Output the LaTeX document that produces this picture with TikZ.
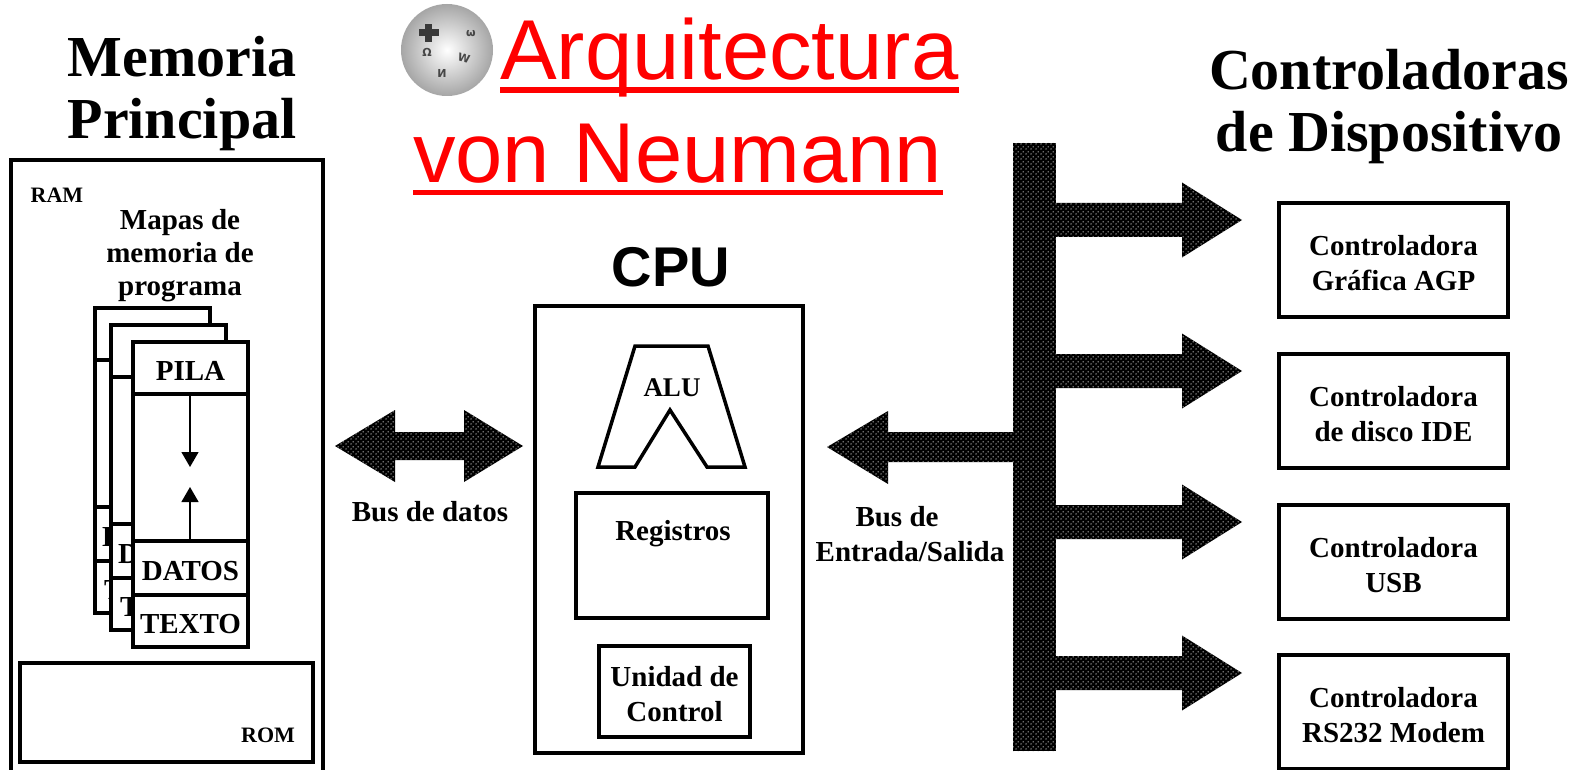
\documentclass[tikz,border=0pt]{standalone}
\usepackage{fontspec}
\setmainfont{Liberation Serif}
\newfontfamily\arialf{Liberation Sans}
\newfontfamily\dejavu{DejaVu Sans}
\usetikzlibrary{arrows.meta,patterns}
\pgfdeclarepatternformonly{busdots}{\pgfqpoint{0pt}{0pt}}{\pgfqpoint{5pt}{5pt}}{\pgfqpoint{5pt}{5pt}}{%
  \pgfpathcircle{\pgfqpoint{1.25pt}{1.25pt}}{0.8pt}%
  \pgfpathcircle{\pgfqpoint{3.75pt}{3.75pt}}{0.8pt}%
  \pgfusepath{fill}}
\begin{document}
\begin{tikzpicture}[x=1pt,y=-1pt,
  box/.style={draw, line width=3.5pt},
  lbl/.style={font=\bfseries\fontsize{29}{35}\selectfont, align=center, inner sep=0pt, yshift=-3pt},
  small/.style={font=\bfseries\fontsize{22}{26}\selectfont, inner sep=0pt, yshift=-2pt},
  head/.style={font=\bfseries\fontsize{58}{62}\selectfont, inner sep=0pt, anchor=base},
  titl/.style={font=\arialf\fontsize{85}{85}\selectfont, text=red, inner sep=0pt, anchor=base west},
  bus/.style={fill=black, postaction={pattern=busdots, pattern color=gray!30}},
  ptr/.style={line width=1.3pt, -{Triangle[width=17pt,length=15pt]}},
  glyph/.style={text=gray!55!black, font=\dejavu\bfseries\fontsize{11}{11}\selectfont, inner sep=0pt}
]
\useasboundingbox (0,0) rectangle (1582,770);
\fill[white] (0,0) rectangle (1582,770);

% ---- Wikipedia globe ----
\shade[inner color=white, outer color=gray!70] (447,50) circle (46pt);
\fill[gray!45!black] (419,29) rectangle (439,36);
\fill[gray!45!black] (425,24) rectangle (432,42);
\node[glyph] (g1) at (427,52) {Ω};
\node[glyph, rotate=-15] (g2) at (464,58) {W};
\node[glyph] (g3) at (442,73) {И};
\node[glyph] (g4) at (471,34) {ω};

% ---- Title ----
\node[titl] (t1) at (500,80) {Arquitectura};
\fill[red] ([yshift=-7pt]t1.base west) rectangle ([yshift=-13pt]t1.base east);
\node[titl] (t2) at (413,183) {von Neumann};
\fill[red] ([yshift=-7pt]t2.base west) rectangle ([yshift=-12pt]t2.base east);

% ---- Headings ----
\node[head] (mem1) at (182,77) {Memoria};
\node[head] (mem2) at (182,139) {Principal};
\node[head] (ctl1) at (1389,90) {Controladoras};
\node[head] (ctl2) at (1389,152) {de Dispositivo};

% ---- Main memory ----
\draw[line width=3.5pt] (11,775) -- (11,160) -- (323,160) -- (323,775);
\node[small] (ram) at (57,193) {RAM};
\node[lbl, font=\bfseries\fontsize{29}{33}\selectfont, yshift=-1pt] (mapas) at (180,252) {Mapas de\\memoria de\\programa};

% back pages (only the edges of their texts show)
\foreach \x/\y/\w [count=\i] in {95/308/16, 111/325/22} {
  \draw[box, fill=white] (\x,\y) rectangle ++(115,305);
  \draw[box] (\x,\y+52) -- ++(115,0);
  \draw[box] (\x,\y+199) -- ++(115,0);
  \draw[box] (\x,\y+253) -- ++(115,0);
  \begin{scope}
    \clip (\x,\y+200) rectangle ++(\w,104);
    \node[lbl, anchor=west] (datos\i) at (\x+7,\y+226) {D};
    \node[lbl, anchor=west] (texto\i) at (\x+9,\y+279) {T};
  \end{scope}
}
% front page
\draw[box, fill=white] (133,342) rectangle ++(115,305);
\draw[box] (133,394) -- ++(115,0);
\draw[box] (133,541) -- ++(115,0);
\draw[box] (133,595) -- ++(115,0);
\node[lbl] (pila3) at (190.5,368) {PILA};
\node[lbl] (datos3) at (190.5,568) {DATOS};
\node[lbl] (texto3) at (190.5,621) {TEXTO};
\coordinate (st1) at (190,394);
\coordinate (st2) at (190,467);
\coordinate (he1) at (190,541);
\coordinate (he2) at (190,487);
\draw[ptr] (st1) -- (st2);
\draw[ptr] (he1) -- (he2);

\draw[box] (20,663) rectangle (313,762);
\node[small] (rom) at (268,733) {ROM};

% ---- Data bus ----
\path[bus] (335,446) -- (395,410) -- (395,432) -- (464,432) -- (464,410) -- (523,446)
  -- (464,482) -- (464,460) -- (395,460) -- (395,482) -- cycle;
\node[lbl] (busd) at (430,509) {Bus de datos};

% ---- CPU ----
\node[font=\arialf\bfseries\fontsize{56}{56}\selectfont, anchor=base, inner sep=0pt] (cpu) at (671,286) {CPU};
\draw[box] (535,306) rectangle (803,753);
\draw[line width=3.5pt, line join=miter] (635,346) -- (708,346) -- (745,467) -- (707,467)
  -- (670,410) -- (635,467) -- (598,467) -- cycle;
\node[lbl, font=\bfseries\fontsize{27}{30}\selectfont] (alu) at (672,385) {ALU};
\draw[box] (576,493) rectangle (768,618);
\node[lbl] (reg) at (673,531) {Registros};
\draw[box] (599,646) rectangle (750,737);
\node[lbl] (uc) at (674.5,691.5) {Unidad de\\Control};

% ---- I/O bus ----
\path[bus] (827,447) -- (888,411) -- (888,432) -- (1030,432) -- (1030,462) -- (888,462) -- (888,484) -- cycle;
\node[lbl] (buses) at (910,531) {Bus de\hspace*{26pt}\\Entrada/Salida};
\foreach \c in {220,371,522,673} {
  \path[bus] (1040,\c-17) -- (1182,\c-17) -- (1182,\c-37.5) -- (1242,\c) -- (1182,\c+37.5)
    -- (1182,\c+17) -- (1040,\c+17) -- cycle;
}
\path[bus] (1013,143) rectangle (1056,751);

% ---- Controllers ----
\foreach \c/\t [count=\i] in {260/{Controladora\\Gráfica AGP}, 411/{Controladora\\de disco IDE},
    562/{Controladora\\USB}, 712/{Controladora\\RS232 Modem}} {
  \draw[box] (1279,\c-57) rectangle ++(229,114);
  \node[lbl] (ctrl\i) at (1393.5,\c) {\t};
}
\end{tikzpicture}
\end{document}
